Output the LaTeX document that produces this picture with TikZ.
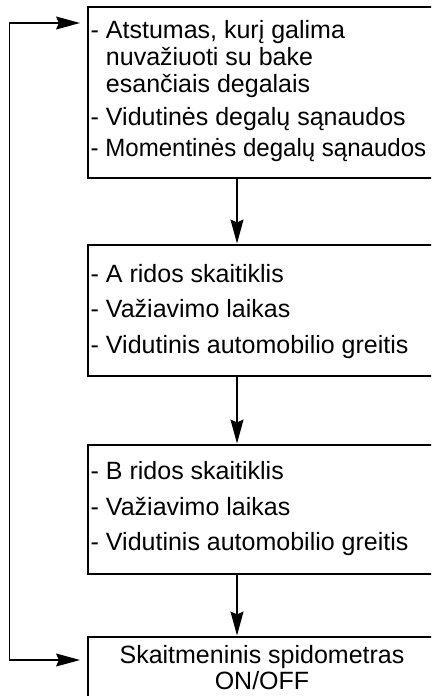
\documentclass[tikz,border=0pt]{standalone}
\usepackage{fontspec}
\setmainfont{Liberation Sans}
\usetikzlibrary{arrows.meta}
\begin{document}
\begin{tikzpicture}[x=1pt,y=-1pt,
  box/.style={draw, line width=1.2pt, inner sep=0pt, outer sep=0pt},
  txt/.style={anchor=base west, inner sep=0pt, font=\fontsize{25}{28}\selectfont},
  ctxt/.style={anchor=base, inner sep=0pt, font=\fontsize{25}{28}\selectfont},
  arr/.style={line width=1.1pt, -{Stealth[length=24pt,width=13pt,inset=3pt]}},
  arrb/.style={line width=1.1pt, {Stealth[length=24pt,width=13pt,inset=3pt]}-{Stealth[length=24pt,width=13pt,inset=3pt]}, shorten <=8pt, shorten >=8pt}]
\useasboundingbox (0,0) rectangle (431,696);
\clip (0,0) rectangle (431,696);
\node[box, minimum width=354pt, minimum height=171pt] (b1) at (265,92.5) {};
\node[box, minimum width=354pt, minimum height=131pt] (b2) at (265,310.5) {};
\node[box, minimum width=354pt, minimum height=129pt] (b3) at (265,509.5) {};
\node[box, minimum width=354pt, minimum height=83pt] (b4) at (265,678.5) {};

\node[txt] (t11) at (90.5,38) {- Atstumas, kurį galima};
\node[txt] (t12) at (90.5,65) {\phantom{- }nuvažiuoti su bake};
\node[txt] (t13) at (90.5,92) {\phantom{- }esančiais degalais};
\node[txt] (t14) at (90.5,125) {- Vidutinės degalų sąnaudos};
\node[txt] (t15) at (90.5,156) {\scalebox{0.962}[1]{- Momentinės degalų sąnaudos}};

\node[txt] (t21) at (90.5,282) {- A ridos skaitiklis};
\node[txt] (t22) at (90.5,317) {- Važiavimo laikas};
\node[txt] (t23) at (90.5,353) {- Vidutinis automobilio greitis};

\node[txt] (t31) at (90.5,479) {- B ridos skaitiklis};
\node[txt] (t32) at (90.5,515) {- Važiavimo laikas};
\node[txt] (t33) at (90.5,550) {- Vidutinis automobilio greitis};

\node[ctxt] (t41) at (262,663) {Skaitmeninis spidometras};
\node[ctxt] (t42) at (262,689) {ON/OFF};

\coordinate (ax) at (237,0);
\coordinate (l1) at (9.5,23);
\coordinate (l4) at (9.5,660);
\draw[arr, shorten >=1.5pt] (b1.south -| ax) -- (b2.north -| ax);
\draw[arr, shorten >=1.5pt] (b2.south -| ax) -- (b3.north -| ax);
\draw[arr, shorten >=1.5pt] (b3.south -| ax) -- (b4.north -| ax);
\draw[arrb] (b4.west |- l4) -- (l4) -- (l1) -- (b1.west |- l1);
\end{tikzpicture}
\end{document}
